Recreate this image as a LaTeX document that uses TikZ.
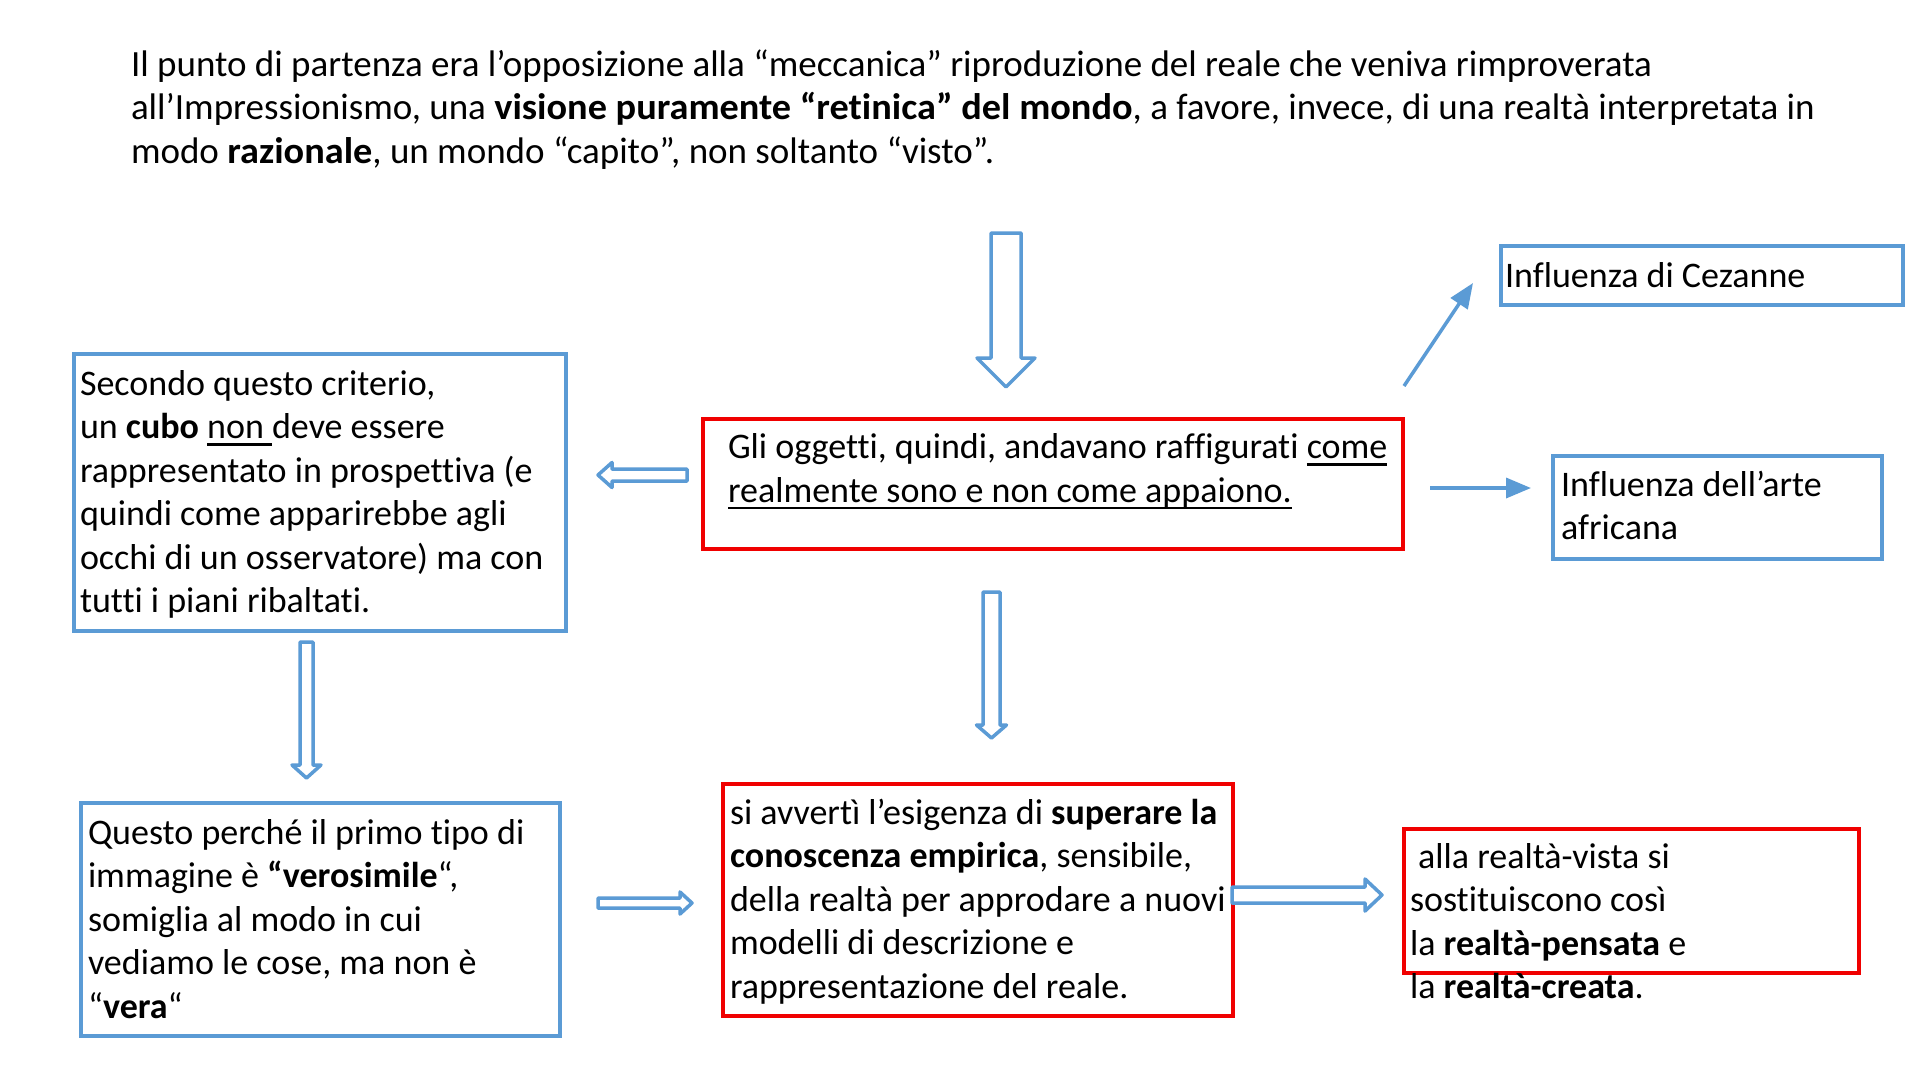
\documentclass[tikz,border=0pt]{standalone}
\usepackage{fontspec}
\usepackage{graphicx}
\setmainfont{Carlito}[Ligatures={TeX,NoCommon}]
\usetikzlibrary{calc,arrows.meta}
\definecolor{obl}{RGB}{91,155,213}
\definecolor{ored}{RGB}{240,0,0}
\newcommand\lns[1]{\begin{tabular}[t]{@{}l@{}}#1\end{tabular}}
\newcommand\myul[1]{\setbox0\hbox{#1}\rlap{\rule[-7pt]{\wd0}{2.5pt}}\box0}
\newcommand\wbf[1]{\scalebox{1.035}[1]{\textbf{#1}}}
\newcommand\dnarrow[5]{%
  \draw[blockarr] ($(#1)+(-#3,0)$) -- ($(#1)+(#3,0)$) -- ($(#2)+(#3,-#5)$) -- ($(#2)+(#4,-#5)$) -- (#2) -- ($(#2)+(-#4,-#5)$) -- ($(#2)+(-#3,-#5)$) -- cycle;}
\newcommand\rtarrow[5]{%
  \draw[blockarr] ($(#1)+(0,-#3)$) -- ($(#2)+(-#5,-#3)$) -- ($(#2)+(-#5,-#4)$) -- (#2) -- ($(#2)+(-#5,#4)$) -- ($(#2)+(-#5,#3)$) -- ($(#1)+(0,#3)$) -- cycle;}
\newcommand\ltarrow[5]{%
  \draw[blockarr] ($(#1)+(0,-#3)$) -- ($(#2)+(#5,-#3)$) -- ($(#2)+(#5,-#4)$) -- (#2) -- ($(#2)+(#5,#4)$) -- ($(#2)+(#5,#3)$) -- ($(#1)+(0,#3)$) -- cycle;}
\tikzset{
  txt/.style={anchor=base west, inner sep=0pt, outer sep=0pt, text=black,
    font=\fontsize{36}{43.5}\selectfont},
  bigtxt/.style={txt, font=\fontsize{37}{43.5}\selectfont},
  bluebox/.style={draw=obl, line width=3.5pt, inner sep=0pt, outer sep=0pt, anchor=north west},
  redbox/.style={draw=ored, line width=4pt, inner sep=0pt, outer sep=0pt, anchor=north west},
  blockarr/.style={draw=obl, fill=white, line width=3.5pt, line join=round},
  thinarr/.style={draw=obl, line width=3.5pt, -{Triangle[length=25pt,width=20pt]}}
}
\begin{document}
\begin{tikzpicture}[x=1pt,y=-1pt]
\fill[white] (0,0) rectangle (1920,1080);
\useasboundingbox (0,0) rectangle (1920,1080);

% top paragraph
\node[bigtxt] (intro) at (131,76) {\lns{Il punto di partenza era l’opposizione alla “meccanica” riproduzione del reale che veniva rimproverata\\
all’Impressionismo, una \wbf{visione puramente “retinica” del mondo}, a favore, invece, di una realtà interpretata in\\
modo \wbf{razionale}, un mondo “capito”, non soltanto “visto”.}};

% boxes
\node[bluebox, minimum width=492pt, minimum height=277pt] (left) at (74,354) {};
\node[redbox, minimum width=700pt, minimum height=130pt] (center) at (703,419) {};
\node[bluebox, minimum width=402pt, minimum height=59pt] (cez) at (1501,246) {};
\node[bluebox, minimum width=329pt, minimum height=103pt] (afr) at (1553,456) {};
\node[bluebox, minimum width=479pt, minimum height=233pt] (bleft) at (81,803) {};
\node[redbox, minimum width=510pt, minimum height=232pt] (bcenter) at (723,784) {};
\node[redbox, minimum width=455pt, minimum height=144pt] (bright) at (1404,829) {};

% texts
\node[txt] (tleft) at (80,395) {\lns{Secondo questo criterio,\\
un \textbf{cubo} \myul{non }deve essere\\
rappresentato in prospettiva (e\\
quindi come apparirebbe agli\\
occhi di un osservatore) ma con\\
tutti i piani ribaltati.}};
\node[txt] (tcenter) at (728,458.5) {\lns{Gli oggetti, quindi, andavano raffigurati \myul{come}\\
\myul{realmente sono e non come appaiono.}}};
\node[txt] (tcez) at (1505,287) {Influenza di Cezanne};
\node[txt] (tafr) at (1561,496) {\lns{Influenza dell’arte\\africana}};
\node[txt] (tbleft) at (88,844) {\lns{Questo perché il primo tipo di\\
immagine è \textbf{“verosimile}“,\\
somiglia al modo in cui\\
vediamo le cose, ma non è\\
“\textbf{vera}“}};
\node[txt] (tbcenter) at (730,824) {\lns{si avvertì l’esigenza di \textbf{superare la}\\
\textbf{conoscenza empirica}, sensibile,\\
della realtà per approdare a nuovi\\
modelli di descrizione e\\
rappresentazione del reale.}};
\node[txt] (tbright) at (1410,868) {\lns{\ alla realtà-vista si\\
sostituiscono così\\
la \textbf{realtà-pensata} e\\
la \textbf{realtà-creata}.}};

% block arrows
\coordinate (a1s) at (1006,233); \coordinate (a1e) at (1006,387);
\dnarrow{a1s}{a1e}{15}{29}{29}
\coordinate (a2s) at (687,475); \coordinate (a2e) at (598,475);
\ltarrow{a2s}{a2e}{6}{12.5}{14}
\coordinate (a3s) at (306.5,642); \coordinate (a3e) at (306.5,778);
\dnarrow{a3s}{a3e}{6.5}{14.5}{13}
\coordinate (a4s) at (991.5,592); \coordinate (a4e) at (991.5,738);
\dnarrow{a4s}{a4e}{8.5}{15}{13}
\coordinate (a5s) at (598,903); \coordinate (a5e) at (692,903);
\rtarrow{a5s}{a5e}{5}{11}{12}
\coordinate (a6s) at (1232,895); \coordinate (a6e) at (1382,895);
\rtarrow{a6s}{a6e}{8}{16}{17}

% thin arrows
\coordinate (d1s) at (1404,386); \coordinate (d1e) at (1473,283);
\draw[thinarr] (d1s) -- (d1e);
\coordinate (h1s) at (1430,488); \coordinate (h1e) at (1531,488);
\draw[thinarr] (h1s) -- (h1e);
\end{tikzpicture}
\end{document}
